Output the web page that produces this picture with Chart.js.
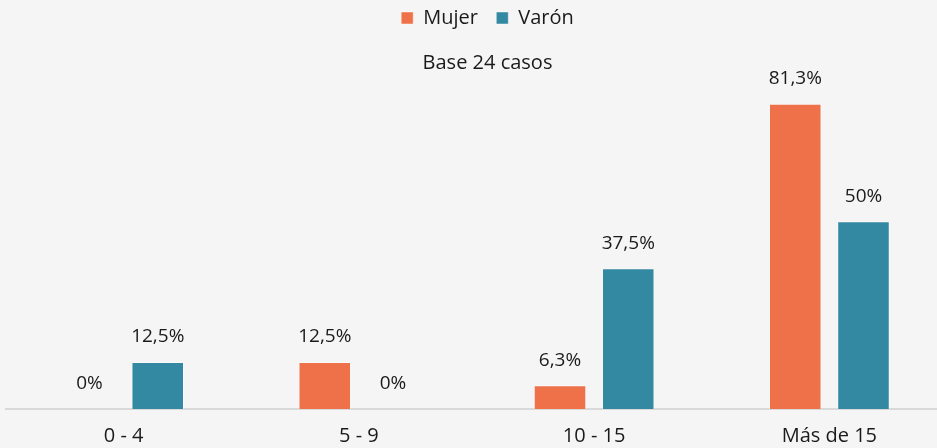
<!DOCTYPE html>
<html>
<head>
<meta charset="utf-8">
<script src="https://cdn.jsdelivr.net/npm/chart.js@4"></script>
<style>
    html, body { margin: 0; padding: 0; background: #f5f5f5; }
    #wrap { width: 937px; height: 448px; overflow: hidden; }
</style>
</head>
<body>
<div id="wrap">
    <canvas id="myChart" width="975" height="448"></canvas>
</div>
<script>
const categories = ["0 - 4", "5 - 9", "10 - 15", "Más de 15"];
const mujerValues = [0, 12.5, 6.3, 81.3];
const varonValues = [12.5, 0, 37.5, 50];
const seriesNames = ["Mujer", "Varón"];
const titleText = "Base 24 casos";

const fontName = "'Open Sans', sans-serif";
const fontSize = 20;
const textColor = "#1a1a1a";

// draws the value above every bar
const valueLabels = {
    id: "valueLabels",
    afterDatasetsDraw(chart) {
        const ctx = chart.ctx;
        ctx.save();
        ctx.font = "19px " + fontName;
        ctx.fillStyle = textColor;
        ctx.textAlign = "center";
        ctx.textBaseline = "middle";
        chart.data.datasets.forEach((ds, i) => {
            chart.getDatasetMeta(i).data.forEach((bar, j) => {
                const label = String(ds.data[j]).replace(".", ",") + "%";
                ctx.fillText(label, bar.x, bar.y - 25);
            });
        });
        ctx.restore();
    }
};

new Chart("myChart", {
    type: "bar",
    data: {
        labels: categories,
        datasets: [{
            label: seriesNames[0],
            data: mujerValues,
            backgroundColor: "#ef7149",
            borderColor: "rgba(255,255,255,0.45)",
            borderWidth: 1,
            categoryPercentage: 0.58,
            barPercentage: 0.77
        }, {
            label: seriesNames[1],
            data: varonValues,
            backgroundColor: "#3389a1",
            borderColor: "rgba(255,255,255,0.45)",
            borderWidth: 1,
            categoryPercentage: 0.58,
            barPercentage: 0.77
        }]
    },
    options: {
        responsive: false,
        animation: false,
        layout: { padding: 0 },
        scales: {
            x: {
                grid: { display: false, drawTicks: false },
                border: { color: "#d9d9d9", width: 2 },
                ticks: {
                    color: textColor,
                    font: { family: fontName, size: fontSize },
                    padding: 15
                },
                afterFit(scale) { scale.height = 39; }
            },
            y: {
                min: 0,
                max: 89.5,
                grid: { display: false },
                border: { display: false },
                ticks: { display: false },
                afterFit(scale) { scale.width = 6; }
            },
            y2: {
                position: "right",
                grid: { display: false },
                border: { display: false },
                ticks: { display: false },
                afterFit(scale) { scale.width = 28; }
            }
        },
        plugins: {
            legend: {
                display: true,
                weight: 3000,
                labels: {
                    boxWidth: 12,
                    boxHeight: 12,
                    padding: 8,
                    color: textColor,
                    font: { family: fontName, size: fontSize },
                    generateLabels(chart) {
                        const items = Chart.defaults.plugins.legend.labels.generateLabels(chart);
                        // a bit more room between the two entries
                        items.forEach((item, i) => {
                            if (i < items.length - 1) item.text = item.text + "  ";
                        });
                        return items;
                    }
                }
            },
            title: {
                display: true,
                text: titleText,
                color: textColor,
                font: { family: fontName, size: fontSize, weight: "normal", lineHeight: 1 },
                padding: { top: 15, bottom: 0 }
            },
            tooltip: { enabled: false }
        }
    },
    plugins: [valueLabels]
});
</script>
</body>
</html>
